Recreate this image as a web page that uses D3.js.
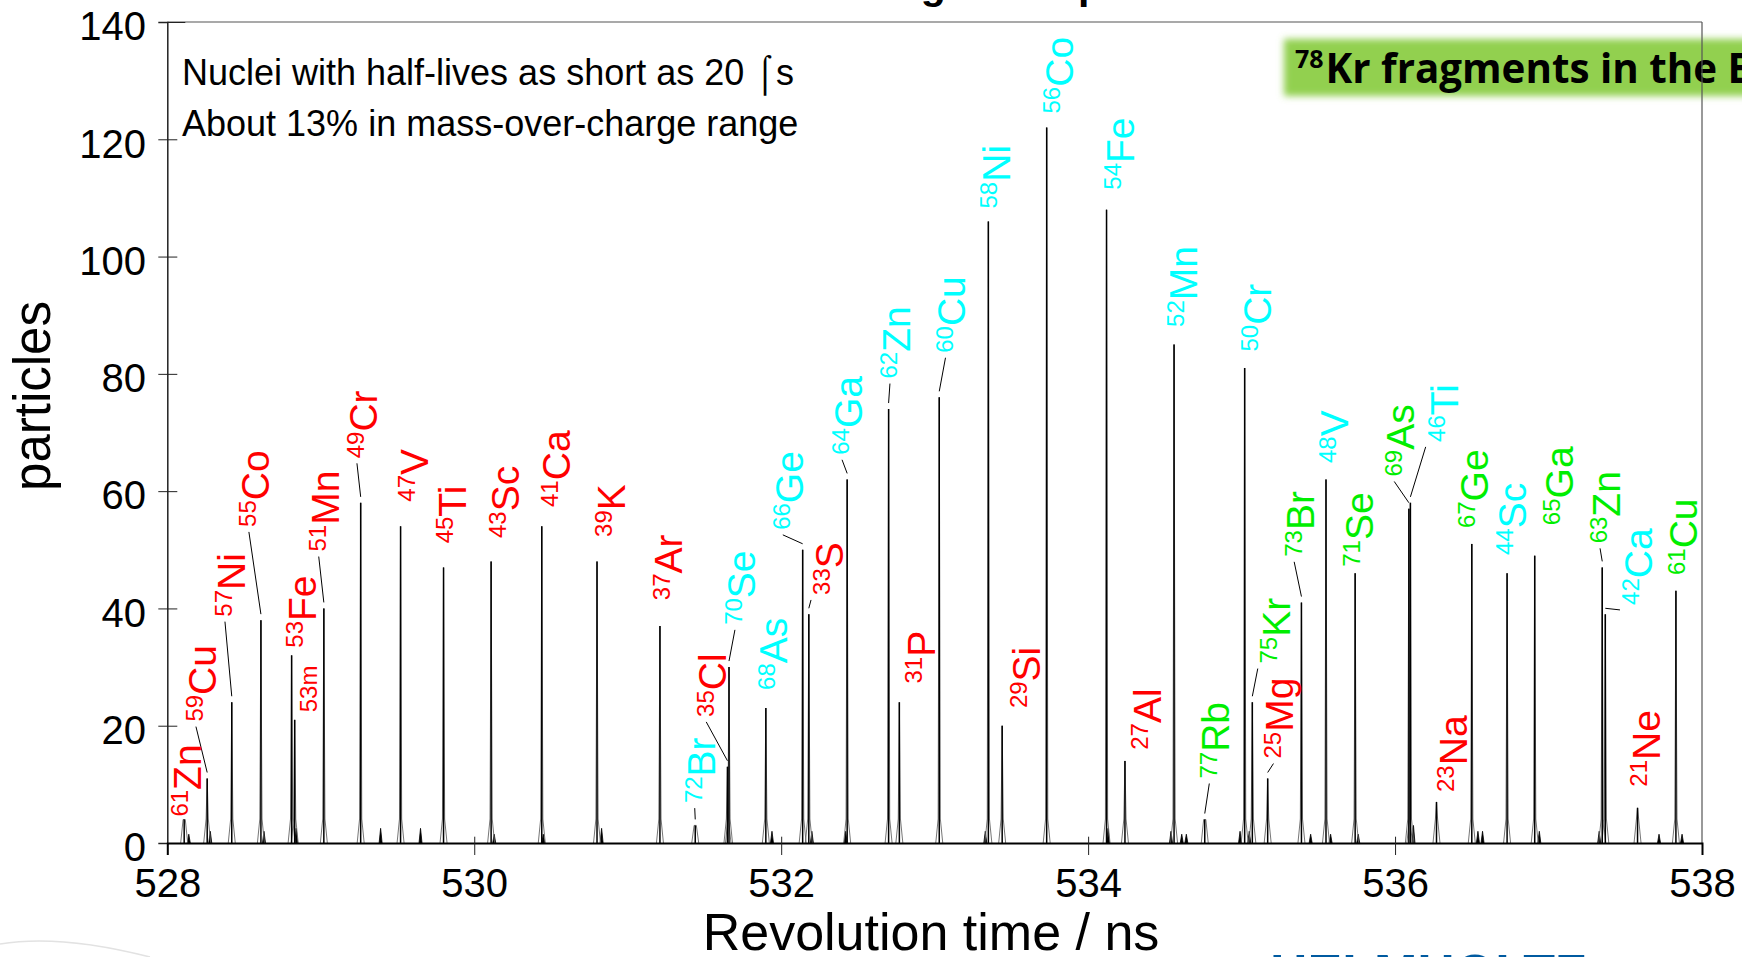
<!DOCTYPE html>
<html>
<head>
<meta charset="utf-8">
<script src="https://cdn.jsdelivr.net/npm/d3@7"></script>
<style>
  body { margin: 0; background: #fff; }
  svg { display: block; font-family: "Liberation Sans", Arial, sans-serif; }
</style>
</head>
<body>
<script>
// peak data: revolution time (ns), counts, label
const massNumbers = ["61","59","57","55","53","53m","51","49","47","45","43","41","39","37","72","35","70","68","66","33","64","62","31","60","58","29","56","54","27","52","77","50","75","25","73","48","71","69","46","23","67","44","65","63","42","21","61"];
const elements = ["Zn","Cu","Ni","Co","Fe","","Mn","Cr","V","Ti","Sc","Ca","K","Ar","Br","Cl","Se","As","Ge","S","Ga","Zn","P","Cu","Ni","Si","Co","Fe","Al","Mn","Rb","Cr","Kr","Mg","Br","V","Se","As","Ti","Na","Ge","Sc","Ga","Zn","Ca","Ne","Cu"];
const groups = ["r","r","r","r","r","r","r","r","r","r","r","r","r","r","c","r","c","c","c","r","c","c","r","c","c","r","c","c","r","c","g","c","g","r","g","c","g","g","c","r","g","c","g","g","c","r","g"];
const times = [528.11,528.26,528.42,528.61,528.81,528.83,529.02,529.26,529.52,529.80,530.11,530.44,530.80,531.21,531.44,531.65,531.66,531.90,532.14,532.18,532.43,532.70,532.77,533.03,533.35,533.44,533.73,534.12,534.24,534.56,534.76,535.02,535.07,535.17,535.39,535.55,535.74,536.09,536.10,536.27,536.50,536.73,536.91,537.35,537.37,537.58,537.83];
const counts = [4,11,24,38,32,21,40,58,54,47,48,54,48,37,3,13,30,23,50,39,62,74,24,76,106,20,122,108,14,85,4,81,24,11,41,62,46,57,58,7,51,46,49,47,39,6,43];
// where each label starts (time, counts of the text's lower end)
const labelTimes = [528.22,528.317,528.506,528.662,528.969,528.975,529.117,529.366,529.698,529.946,530.289,530.625,530.982,531.356,531.567,531.642,531.829,532.041,532.141,532.403,532.527,532.839,533.002,533.201,533.488,533.686,533.899,534.298,534.473,534.710,534.920,535.190,535.314,535.338,535.473,535.695,535.854,536.125,536.408,536.469,536.605,536.851,537.159,537.466,537.674,537.724,537.970];
const labelCounts = [4.5,20.7,38.6,53.9,33.3,22.3,49.7,65.6,58.2,51.1,52.0,57.3,52.2,41.4,6.8,21.5,37.2,26.1,53.4,42.3,66.2,79.2,27.2,83.6,108.2,23.0,124.4,111.4,15.9,88.0,11.0,83.8,30.6,14.4,48.8,64.8,47.1,62.5,68.4,8.7,53.7,49.1,54.2,51.1,40.6,9.6,45.7];
const leaders = [0,1,1,1,0,0,1,1,0,0,0,0,0,0,1,1,1,0,1,1,1,1,0,1,0,0,0,0,0,0,1,0,1,1,1,0,0,1,1,0,0,0,0,1,1,0,0];

// small unlabelled bumps near the baseline
const minorTimes = [528.14,528.28,528.63,528.84,529.39,529.65,530.13,530.45,530.83,531.94,532.20,532.42,533.33,534.13,534.54,534.61,534.64,534.99,535.05,535.45,535.58,535.76,536.12,536.54,536.57,536.94,537.33,537.72,537.87];
const minorCounts = [1.5,2,2,2.5,2.5,2.5,1.5,1.5,2.5,2,2,2,2,2.5,2,1.5,1.5,2,2,1.5,1.5,1.5,3,2,2,2,2,1.5,1.5];

const xTicks = [528,530,532,534,536,538];
const yTicks = [0,20,40,60,80,100,120,140];

const colours = { r: "#ff0000", c: "#00ffff", g: "#00ee00" };

const W = 1742, H = 957;
const svg = d3.select("body").append("svg").attr("width", W).attr("height", H);
svg.append("rect").attr("width", W).attr("height", H).attr("fill", "#fff");

const x = d3.scaleLinear().domain([528, 538]).range([167.3, 1702]);
const y = d3.scaleLinear().domain([0, 140]).range([843, 22]);

// slide title, cut off at the top of the page (only descenders show)
svg.append("text")
  .attr("x", 857).attr("y", -1.5)
  .attr("font-weight", "bold").attr("font-size", 41)
  .text("Fragment spectrum");

// green banner
const defs = svg.append("defs");
defs.append("filter").attr("id", "glow")
  .attr("x", "-10%").attr("y", "-40%").attr("width", "120%").attr("height", "180%")
  .append("feGaussianBlur").attr("stdDeviation", 3.5);
svg.append("rect")
  .attr("x", 1284).attr("y", 39).attr("width", 520).attr("height", 57)
  .attr("fill", "#92d050").attr("filter", "url(#glow)");
svg.append("text")
  .attr("x", 1295).attr("y", 68)
  .attr("font-family", "'Open Sans', 'Noto Sans', sans-serif")
  .attr("font-weight", "bold").attr("font-size", 25)
  .text("78");
const banner = svg.append("text")
  .attr("font-family", "'Open Sans', 'Noto Sans', sans-serif")
  .attr("font-weight", "bold").attr("font-size", 42)
  .text("Kr fragments in the ESR");
const subLen = banner.node().getSubStringLength(0, 20);
banner.attr("transform", `translate(1325.5,83) scale(${402 / subLen},1)`);

// peaks
const base = y(0);
const spikes = svg.append("g").attr("class", "peaks");

spikes.selectAll("path.minor")
  .data(minorTimes)
  .join("path")
  .attr("class", "minor")
  .attr("d", (t, i) => `M${x(t) - 1.5},${base}L${x(t)},${y(minorCounts[i])}L${x(t) + 1.5},${base}`)
  .attr("fill", "#000").attr("stroke", "#000").attr("stroke-width", 0.8);

spikes.selectAll("path.foot")
  .data(times)
  .join("path")
  .attr("class", "foot")
  .attr("d", (t, i) => {
    const px = x(t), knee = Math.max(y(counts[i]), base - 24);
    return `M${px - 3.5},${base}L${px - 1.1},${knee}L${px},${y(counts[i])}L${px + 1.1},${knee}L${px + 3.5},${base}`;
  })
  .attr("fill", "none").attr("stroke", "#666").attr("stroke-width", 0.9);

spikes.selectAll("line.peak")
  .data(times)
  .join("line")
  .attr("class", "peak")
  .attr("x1", d => x(d)).attr("x2", d => x(d))
  .attr("y1", base).attr("y2", (d, i) => y(counts[i]))
  .attr("stroke", "#000").attr("stroke-width", 1.5);

// leader lines from labels to peaks
svg.append("g").selectAll("line")
  .data(times.map((t, i) => i).filter(i => leaders[i]))
  .join("line")
  .attr("x1", i => x(labelTimes[i]) - (x(labelTimes[i]) > x(times[i]) + 30 ? 32 : 20))
  .attr("y1", i => y(labelCounts[i]) + 5)
  .attr("x2", i => x(times[i]))
  .attr("y2", i => y(counts[i]) - 6)
  .attr("stroke", "#000").attr("stroke-width", 1);

// isotope labels
const labels = svg.append("g").attr("class", "labels");
times.forEach((t, i) => {
  const txt = labels.append("text")
    .attr("transform", `translate(${x(labelTimes[i])},${y(labelCounts[i])}) rotate(-90)`)
    .attr("fill", colours[groups[i]]);
  const raise = elements[i] ? 12.6 : 0;
  txt.append("tspan").attr("font-size", 24).attr("dy", -raise).text(massNumbers[i]);
  if (elements[i]) {
    txt.append("tspan").attr("font-size", 39).attr("dy", raise).text(elements[i]);
  }
});

// frame
svg.append("line").attr("x1", x(528)).attr("x2", x(538)).attr("y1", y(140)).attr("y2", y(140))
  .attr("stroke", "#555").attr("stroke-width", 1.2);
svg.append("line").attr("x1", x(538)).attr("x2", x(538)).attr("y1", y(140)).attr("y2", y(0))
  .attr("stroke", "#555").attr("stroke-width", 1.2);

// axes
const yAxis = svg.append("g")
  .attr("transform", `translate(${x(528)},0)`)
  .call(d3.axisLeft(y).tickValues(yTicks).tickSize(9).tickPadding(12.3));
yAxis.select(".domain").attr("stroke", "#222").attr("stroke-width", 1.5);
yAxis.selectAll(".tick line")
  .attr("x1", d => d === 140 ? 18 : 10)
  .attr("x2", d => (d === 0 || d === 140) ? 0 : -9)
  .attr("stroke", "#222");
yAxis.selectAll(".tick text")
  .attr("font-size", 40).attr("font-family", "'Liberation Sans', Arial, sans-serif")
  .attr("fill", "#000").attr("dy", "0.445em");

const xAxis = svg.append("g")
  .attr("transform", `translate(0,${y(0)})`)
  .call(d3.axisBottom(x).tickValues(xTicks).tickSize(12).tickPadding(13.1));
xAxis.select(".domain").attr("stroke", "#000").attr("stroke-width", 2);
xAxis.selectAll(".tick line")
  .attr("y1", d => (d === 528 || d === 538) ? 0 : -6.3)
  .attr("y2", d => (d === 528 || d === 538) ? 0 : 12)
  .attr("stroke", "#222");
xAxis.selectAll(".tick text")
  .attr("font-size", 40).attr("font-family", "'Liberation Sans', Arial, sans-serif")
  .attr("fill", "#000");

// axis titles
svg.append("text")
  .attr("transform", "translate(50,396) rotate(-90)")
  .attr("text-anchor", "middle").attr("font-size", 51)
  .text("particles");
svg.append("text")
  .attr("x", 931).attr("y", 950)
  .attr("text-anchor", "middle").attr("font-size", 52)
  .text("Revolution time / ns");

// notes
svg.append("text").attr("x", 182).attr("y", 85).attr("font-size", 36)
  .text("Nuclei with half-lives as short as 20 \u2320s");
svg.append("text").attr("x", 182).attr("y", 136).attr("font-size", 36)
  .text("About 13% in mass-over-charge range");

// slide decorations at the bottom edge
svg.append("path")
  .attr("d", "M0,944 Q60,934 150,957")
  .attr("fill", "none").attr("stroke", "#e2e2e2").attr("stroke-width", 1.5);
svg.append("text")
  .attr("x", 1270).attr("y", 991)
  .attr("font-weight", "bold").attr("font-size", 52)
  .attr("fill", "#005aa0")
  .text("HELMHOLTZ");
</script>
</body>
</html>
